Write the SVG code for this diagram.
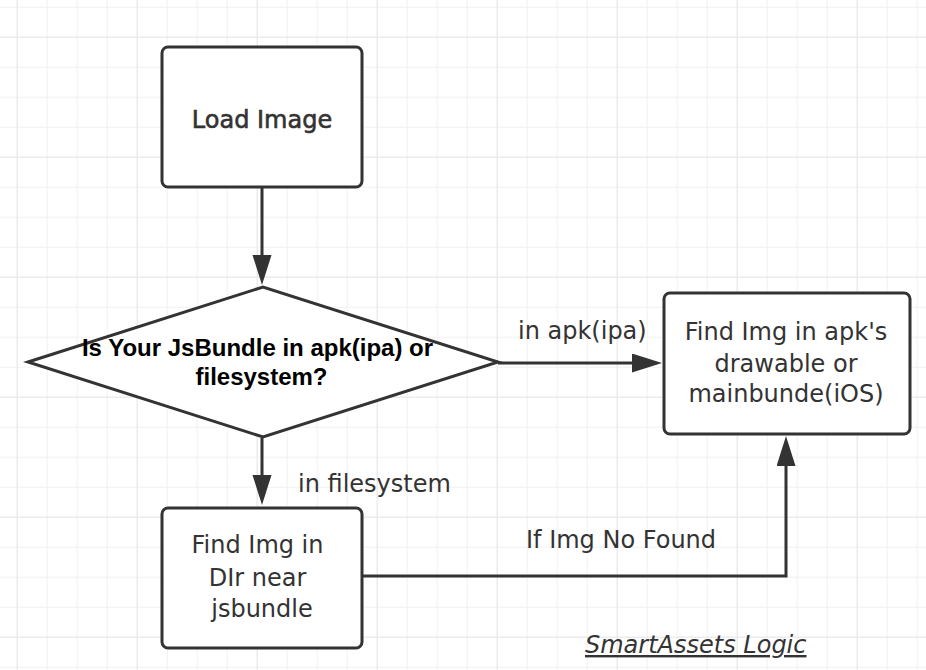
<svg xmlns="http://www.w3.org/2000/svg" width="926" height="670" viewBox="0 0 926 670">
<defs>
<pattern id="gridMinor" x="16.7" y="6.7" width="30" height="30" patternUnits="userSpaceOnUse">
<path d="M0,0 H30 M0,0 V30" fill="none" stroke="#f1f1f1" stroke-width="2"/>
</pattern>
<pattern id="gridMajor" x="16.7" y="36.7" width="120" height="120" patternUnits="userSpaceOnUse">
<path d="M0,0 H120 M0,0 V120" fill="none" stroke="#e8e8e8" stroke-width="2.2"/>
</pattern>
<marker id="arrow" markerUnits="userSpaceOnUse" markerWidth="32" markerHeight="22" refX="2" refY="9.5" orient="auto" viewBox="0 0 32 22">
<path d="M0,0 L30,9.5 L0,19 Z" fill="#333"/>
</marker>
<style>
.box{fill:#fff;stroke:#333;stroke-width:3}
.t{font-family:"DejaVu Sans","Liberation Sans",sans-serif;font-size:24px;fill:#333}
.c{text-anchor:middle}
.m{stroke:#333;stroke-width:0.6}
.d{font-family:"Liberation Sans",Arial,sans-serif;font-size:24px;font-weight:bold;fill:#000;text-anchor:middle}
.conn{fill:none;stroke:#333;stroke-width:3;stroke-linejoin:miter}
</style>
</defs>
<rect width="926" height="670" fill="#fff"/>
<rect width="926" height="670" fill="url(#gridMinor)"/>
<rect width="926" height="670" fill="url(#gridMajor)"/>

<g id="connectors">
<path class="conn" d="M262,188 L262,257" marker-end="url(#arrow)"/>
<path class="conn" d="M262,438 L262,477" marker-end="url(#arrow)"/>
<path class="conn" d="M498,363 L634,363" marker-end="url(#arrow)"/>
<path class="conn" d="M363,576 L786,576 L786,464" marker-end="url(#arrow)"/>
<text class="t" x="518" y="339">in apk(ipa)</text>
<text class="t" x="298" y="492">in filesystem</text>
<text class="t" x="526" y="548">If Img No Found</text>
</g>

<g id="load-image">
<rect class="box" x="162" y="47" width="200" height="140" rx="6"/>
<text class="t c m" x="262" y="128">Load Image</text>
</g>

<g id="decision">
<polygon class="box" points="28,362 263,287 498,362 263,437"/>
<text class="d" x="257.5" y="356">Is Your JsBundle in apk(ipa) or</text>
<text class="d" x="261.5" y="385">filesystem?</text>
</g>

<g id="find-apk">
<rect class="box" x="664" y="293" width="246" height="141" rx="6"/>
<text class="t c" x="786" y="340">Find Img in apk's</text>
<text class="t c" x="786" y="371.5">drawable or</text>
<text class="t c" x="786" y="402">mainbunde(iOS)</text>
</g>

<g id="find-dir">
<rect class="box" x="162" y="508" width="200" height="140" rx="6"/>
<text class="t c" x="257.5" y="553">Find Img in</text>
<text class="t c" x="257.5" y="586">DIr near</text>
<text class="t c" x="262" y="617">jsbundle</text>
</g>

<g id="title">
<text class="t" x="585" y="653" font-style="italic" text-decoration="underline">SmartAssets Logic</text>
</g>
</svg>
